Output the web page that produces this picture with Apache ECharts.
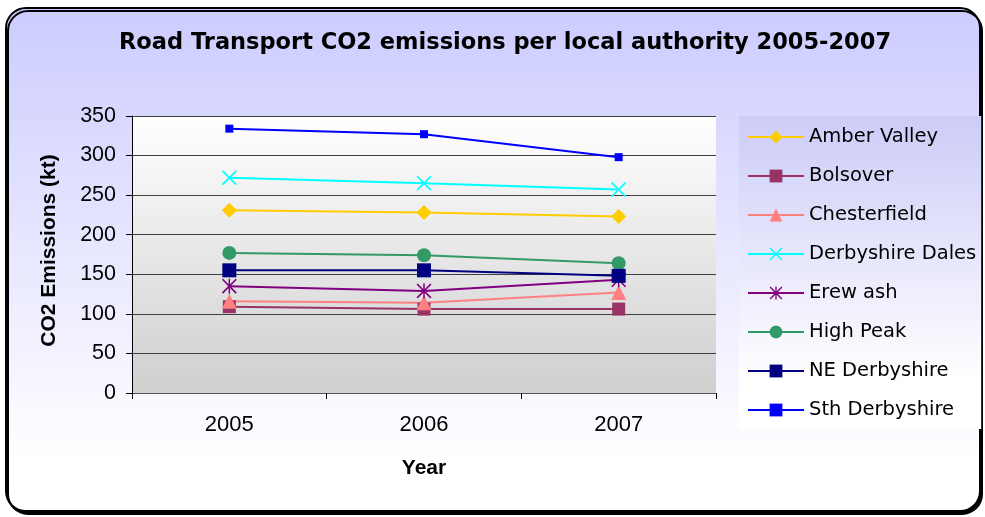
<!DOCTYPE html>
<html>
<head>
<meta charset="utf-8">
<script src="https://cdn.jsdelivr.net/npm/echarts@6/dist/echarts.min.js"></script>
<style>
html,body{margin:0;padding:0;background:#fff;}
#c{width:985px;height:517px;}
</style>
</head>
<body>
<div id="c"></div>
<script>
var years = ['2005', '2006', '2007'];
var seriesNames = ['Amber Valley', 'Bolsover', 'Chesterfield', 'Derbyshire Dales', 'Erew ash', 'High Peak', 'NE Derbyshire', 'Sth Derbyshire'];
var amberValley = [231, 228, 223];
var bolsover = [109, 106, 106];
var chesterfield = [116, 114, 127];
var derbyshireDales = [272, 265, 257];
var erewash = [135, 129, 143];
var highPeak = [177, 174, 164];
var neDerbyshire = [155, 155, 148];
var sthDerbyshire = [334, 327, 298];
var yTicks = {min: 0, max: 350, interval: 50};

var valuesList = [amberValley, bolsover, chesterfield, derbyshireDales, erewash, highPeak, neDerbyshire, sthDerbyshire];
var colors = ['#FFCC00', '#993366', '#FF8080', '#00FFFF', '#800080', '#339966', '#000080', '#0000FF'];
var xPath = 'path://M0 8L8 0L100 92L92 100Z M92 0L100 8L8 100L0 92Z';
var starPath = 'path://M0 8L8 0L100 92L92 100Z M92 0L100 8L8 100L0 92Z M45 0L55 0L55 100L45 100Z';
var symbols = ['diamond', 'rect', 'triangle', xPath, starPath, 'circle', 'rect', 'rect'];
var sizes = [15, 13, 15, 15, 15, 14, 14, 8];

var sans = 'Liberation Sans, Arial, sans-serif';
var wide = 'DejaVu Sans, sans-serif';

var series = seriesNames.map(function (n, i) {
  return {
    name: n,
    type: 'line',
    data: valuesList[i],
    symbol: symbols[i],
    symbolSize: sizes[i],
    showAllSymbol: true,
    lineStyle: {color: colors[i], width: 2},
    itemStyle: {color: colors[i]},
    emphasis: {disabled: true}
  };
});

var chart = echarts.init(document.getElementById('c'), null, {renderer: 'canvas'});
chart.setOption({
  animation: false,
  backgroundColor: '#fff',
  textStyle: {fontFamily: sans},
  graphic: [{
    type: 'rect',
    z: -10,
    shape: {x: 6, y: 8, width: 974, height: 503, r: 20},
    style: {
      fill: new echarts.graphic.LinearGradient(0, 0, 0, 1, [
        {offset: 0, color: '#CCCCFF'},
        {offset: 0.9, color: '#FFFFFF'},
        {offset: 1, color: '#FFFFFF'}
      ]),
      stroke: '#000',
      lineWidth: 2,
      shadowColor: '#000',
      shadowOffsetX: 2,
      shadowOffsetY: 3,
      shadowBlur: 0
    }
  }],
  title: {
    text: 'Road Transport CO2 emissions per local authority 2005-2007',
    left: 114,
    top: 27,
    textStyle: {fontSize: 22.5, fontWeight: 'bold', color: '#000', fontFamily: wide}
  },
  legend: {
    orient: 'vertical',
    left: 739,
    top: 116,
    padding: [11, 5, 9, 8],
    itemGap: 19,
    itemWidth: 56,
    itemHeight: 16,
    itemTextGap: 6,
    backgroundColor: new echarts.graphic.LinearGradient(0, 0, 0, 1, [
      {offset: 0, color: '#CCCCF8'},
      {offset: 0.85, color: '#FFFFFF'},
      {offset: 1, color: '#FFFFFF'}
    ]),
    textStyle: {fontSize: 19.5, color: '#000', lineHeight: 20, fontFamily: wide},
    data: seriesNames
  },
  grid: {
    left: 132, right: 269, top: 116, bottom: 124,
    show: true,
    borderWidth: 0,
    backgroundColor: new echarts.graphic.LinearGradient(0, 0, 0, 1, [
      {offset: 0, color: '#FFFFFF'},
      {offset: 1, color: '#CFCFCF'}
    ])
  },
  xAxis: {
    type: 'category',
    data: years,
    boundaryGap: true,
    name: 'Year',
    nameLocation: 'middle',
    nameGap: 65,
    nameTextStyle: {fontSize: 21, fontWeight: 'bold', color: '#000'},
    axisLine: {lineStyle: {color: '#555', width: 1}},
    axisTick: {show: true, length: 6, lineStyle: {color: '#000'}},
    axisLabel: {fontSize: 22, color: '#000', margin: 21},
    splitLine: {show: false}
  },
  yAxis: {
    type: 'value',
    min: yTicks.min, max: yTicks.max, interval: yTicks.interval,
    name: 'CO2 Emissions (kt)',
    nameLocation: 'middle',
    nameGap: 72,
    nameTextStyle: {fontSize: 21, fontWeight: 'bold', color: '#000', padding: [0, 0, 0, 8]},
    axisLine: {show: true, lineStyle: {color: '#000', width: 1}},
    axisTick: {show: true, length: 6, lineStyle: {color: '#000'}},
    axisLabel: {fontSize: 21.5, color: '#000', margin: 16},
    splitLine: {show: true, lineStyle: {color: '#404040', width: 1}}
  },
  series: series
});
</script>
</body>
</html>
